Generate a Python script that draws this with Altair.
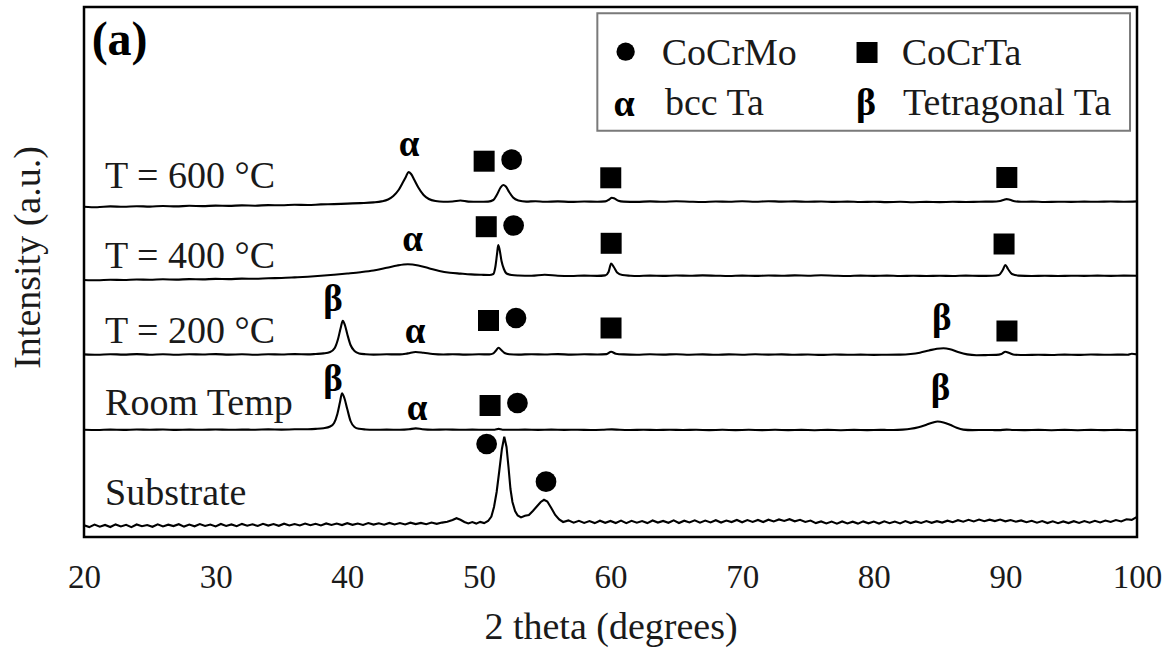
import altair as alt
import pandas as pd

# ---------------- data ----------------
# XRD traces: (2theta, intensity in plot units)
T600 = [(20,330.3),(21,329.8),(22,330.6),(23,330.2),(24,330.8),(25,330.4),(26,331.0),(27,330.6),(28,331.2),(29,330.9),
        (30,331.4),(31,331.1),(32,331.6),(33,331.3),(34,331.9),(35,331.7),(36,332.2),(37,332.0),(38,332.6),(39,332.9),
        (40,333.4),(41,333.9),(42,334.6),(42.6,335.6),(43.1,337.5),(43.5,341),(43.9,347),(44.2,354),(44.45,360),(44.65,365),
        (44.85,363),(45.1,357),(45.4,349.5),(45.8,342),(46.2,338),(46.7,336),(47.3,335.3),(48,335.5),(48.6,336.5),(49.2,335.4),
        (50,335.2),(50.7,335.4),(51.1,337),(51.4,343),(51.65,349.5),(51.85,352),(52.05,350.5),(52.3,345),(52.6,339.5),(53,336.5),
        (53.6,335.4),(54.3,335.8),(55,335.2),(56,335.6),(57,335.1),(58,335.5),(59,335.2),(59.6,335.6),(59.9,337.5),(60.1,339.3),
        (60.3,338.5),(60.6,336.3),(61,335.4),(62,335.1),(63,335.6),(64,335.2),(65,335.7),(66,335.3),(67,335.0),(68,335.5),
        (69,335.2),(70,335.7),(71,335.3),(72,335.8),(73,335.4),(74,335.6),(75,335.2),(76,335.5),(77,335.1),(78,335.4),
        (79,335.0),(80,335.3),(81,334.9),(82,335.2),(83,334.8),(84,335.1),(85,334.9),(86,335.2),(87,335.0),(88,335.3),
        (89,335.4),(89.6,336.0),(89.9,337.3),(90.1,337.9),(90.35,337.2),(90.7,335.8),(91.2,335.2),(92,335.4),(93,335.0),(94,335.3),
        (95,335.1),(96,335.4),(97,335.2),(98,335.5),(99,335.3),(100,335.6)]

T400 = [(20,257.0),(21,256.7),(22,257.3),(23,257.0),(24,257.5),(25,257.2),(26,257.7),(27,257.4),(28,257.9),(29,257.6),
        (30,258.1),(31,257.9),(32,258.4),(33,258.2),(34,258.8),(35,259.0),(36,259.6),(37,260.3),(38,261.2),(39,262.3),
        (40,263.5),(41,264.8),(42,266.5),(43,269.2),(43.8,271.5),(44.6,272.7),(45.4,271.5),(46.2,268.8),(47,266.0),(47.8,264.3),
        (48.6,263.4),(49.4,262.6),(50.2,262.2),(50.8,262.0),(51.1,263.0),(51.25,270),(51.38,283),(51.47,292),(51.58,287),(51.72,276),
        (51.9,268),(52.1,263.5),(52.5,262.0),(53,261.5),(54,261.2),(55,262.2),(56,261.3),(57,261.0),(58,261.4),(59,261.1),
        (59.6,261.6),(59.85,265),(60.05,273.5),(60.25,270),(60.5,264.5),(60.9,262.0),(61.5,261.3),(62,261.0),(63,261.4),(64,261.1),
        (65,261.5),(66,261.2),(67,261.6),(68,261.3),(69,261.0),(70,261.4),(71,261.1),(72,261.5),(73,261.2),(74,261.6),
        (75,261.3),(76,261.7),(77,261.3),(78,261.0),(79,261.4),(80,261.1),(81,261.4),(82,261.0),(83,261.3),(84,261.0),
        (85,261.3),(86,261.0),(87,261.4),(88,261.1),(89,261.3),(89.5,262.0),(89.8,267),(90.0,272),(90.2,268),(90.5,263),
        (91,261.4),(92,261.0),(93,261.3),(94,261.0),(95,261.3),(96,261.1),(97,261.4),(98,261.1),(99,261.4),(100,261.2)]

T200 = [(20,182.6),(21,182.2),(22,182.8),(23,182.4),(24,182.9),(25,182.3),(26,182.7),(27,182.2),(28,182.8),(29,182.5),
        (30,182.9),(31,182.4),(32,182.7),(33,182.3),(34,182.8),(35,182.5),(36,182.9),(37,182.6),(37.6,183.0),(38.2,183.6),
        (38.7,185.0),(39.05,189),(39.3,198),(39.5,209),(39.66,216.3),(39.82,212),(40.0,203),(40.25,192),(40.55,186),(40.9,183.6),
        (41.4,182.8),(42,182.4),(43,182.7),(44,182.6),(44.6,183.6),(45.2,185.0),(45.8,184.2),(46.5,183.0),(47.3,182.5),(48,182.8),
        (49,182.4),(50,182.7),(50.8,182.6),(51.1,183.6),(51.3,186.5),(51.5,189.3),(51.7,187.0),(51.95,184.0),(52.3,182.8),(53,182.4),
        (54,182.8),(55,182.5),(56,182.9),(57,182.4),(58,182.7),(59,182.5),(59.7,182.9),(60.05,185.2),(60.4,183.3),(61,182.6),
        (62,182.3),(63,182.7),(64,182.4),(65,182.8),(66,182.3),(67,182.6),(68,182.2),(69,182.6),(70,182.3),(71,182.7),
        (72,182.4),(73,182.6),(74,182.2),(75,182.5),(76,182.1),(77,182.5),(78,182.2),(79,182.4),(80,182.1),(81,182.3),
        (82,182.4),(82.8,183.0),(83.5,184.3),(84.2,186.5),(84.8,188.3),(85.3,188.8),(85.8,187.8),(86.4,185.0),(87.1,182.6),(87.8,181.8),
        (88.5,181.9),(89.3,182.1),(89.7,183.0),(90.0,185.3),(90.3,184.0),(90.7,182.3),(91.5,182.0),(92.5,182.3),(93.5,182.0),(94.5,182.4),
        (95.5,182.1),(96.5,182.5),(97.5,182.2),(98.5,182.4),(99.3,182.3),(99.6,183.2),(100,182.6)]

TRT = [(20,107.2),(21,107.0),(22,107.4),(23,107.1),(24,107.5),(25,107.2),(26,107.5),(27,107.1),(28,107.4),(29,107.2),
       (30,107.5),(31,107.2),(32,107.4),(33,107.3),(34,107.6),(35,107.4),(36,107.7),(37,107.8),(37.6,108.1),(38.2,108.8),
       (38.7,110.5),(39.0,114),(39.25,123),(39.45,135),(39.6,143.7),(39.78,139),(40.0,128),(40.25,116),(40.55,110),(40.9,108.2),
       (41.4,107.5),(42,107.2),(43,107.4),(44,107.2),(44.7,107.7),(45.2,108.6),(45.7,107.8),(46.5,107.3),(47.5,107.5),(48.5,107.2),
       (49.5,107.4),(50.5,107.2),(51.2,107.3),(51.5,108.1),(51.8,107.3),(52.5,107.2),(53.5,107.4),(54.5,107.1),(55.5,107.4),(56.5,107.1),
       (57.5,107.3),(58.5,107.0),(59.5,107.3),(60.1,107.6),(60.7,107.2),(61.5,107.0),(62.5,107.3),(63.5,107.0),(64.5,107.3),(65.5,107.0),
       (66.5,107.2),(67.5,106.9),(68.5,107.2),(69.5,106.9),(70.5,107.2),(71.5,106.9),(72.5,107.2),(73.5,106.9),(74.5,107.1),(75.5,106.8),
       (76.5,107.1),(77.5,106.8),(78.5,107.1),(79.5,106.9),(80.5,107.1),(81.5,107.0),(82.2,107.4),(82.8,108.2),(83.4,109.8),(84.0,112.3),
       (84.5,114.6),(84.85,115.5),(85.3,114.6),(85.8,112.2),(86.3,109.2),(86.8,107.4),(87.5,106.9),(88.5,107.0),(89.5,106.9),(90.1,107.4),
       (90.6,107.0),(91.5,106.9),(92.5,107.1),(93.5,106.8),(94.5,107.1),(95.5,106.8),(96.5,107.1),(97.5,106.9),(98.5,107.1),(99.5,106.9),
       (100,107.0)]

SUB = [(20,11.8),(20.4,9.9),(20.8,12.4),(21.2,10.3),(21.6,12.1),(22,10.0),(22.4,12.6),(22.8,10.6),(23.2,12.2),(23.6,9.9),
       (24,12.5),(24.4,10.8),(24.8,12.0),(25.2,10.2),(25.6,12.7),(26,10.5),(26.4,12.3),(26.8,10.9),(27.2,12.8),(27.6,10.4),
       (28,12.4),(28.4,10.7),(28.8,12.9),(29.2,11.0),(29.6,12.5),(30,10.6),(30.4,13.0),(30.8,11.1),(31.2,12.6),(31.6,10.8),
       (32,13.1),(32.4,11.3),(32.8,12.7),(33.2,11.0),(33.6,13.2),(34,11.4),(34.4,12.9),(34.8,11.2),(35.2,13.3),(35.6,11.6),
       (36,13.0),(36.4,11.5),(36.8,13.5),(37.2,11.8),(37.6,13.2),(38,11.6),(38.4,13.6),(38.8,12.0),(39.2,13.4),(39.6,11.9),
       (40,13.8),(40.4,12.2),(40.8,13.5),(41.2,12.0),(41.6,14.0),(42,12.4),(42.4,13.7),(42.8,12.3),(43.2,14.1),(43.6,12.6),
       (44,13.9),(44.4,12.5),(44.8,14.3),(45.2,12.9),(45.6,14.1),(46,12.8),(46.4,14.5),(46.8,13.2),(47.2,14.4),(47.6,15.2),
       (48,17.0),(48.3,18.8),(48.6,17.2),(48.9,15.0),(49.2,13.6),(49.5,14.9),(49.8,13.4),(50.1,15.1),(50.4,13.9),(50.7,16.0),
       (50.95,20.5),(51.15,30),(51.35,45),(51.55,66),(51.75,88),(51.93,100.3),(52.1,90),(52.25,70),(52.4,48),(52.55,35),
       (52.75,26),(52.95,21.5),(53.2,19.6),(53.5,21.2),(53.8,22.0),(54.1,26),(54.4,30.5),(54.7,35),(54.95,37.2),(55.2,35.5),
       (55.5,29),(55.8,22),(56.1,17.5),(56.4,15.0),(56.8,16.6),(57.2,14.3),(57.6,16.2),(58,14.1),(58.4,16.0),(58.8,13.9),
       (59.2,16.3),(59.6,14.2),(60,16.1),(60.4,14.0),(60.8,16.4),(61.2,13.8),(61.6,16.2),(62,14.3),(62.4,16.0),(62.8,13.9),
       (63.2,16.5),(63.6,14.4),(64,16.1),(64.4,14.2),(64.8,16.6),(65.2,14.0),(65.6,16.3),(66,14.5),(66.4,16.7),(66.8,14.3),
       (67.2,16.4),(67.6,14.6),(68,16.8),(68.4,14.5),(68.8,16.5),(69.2,14.9),(69.6,17.0),(70,14.7),(70.4,16.9),(70.8,15.1),
       (71.2,17.1),(71.6,15.0),(72,17.3),(72.4,15.6),(72.8,17.6),(73.2,16.0),(73.6,17.8),(74,15.7),(74.4,17.2),(74.8,15.0),
       (75.2,16.4),(75.6,13.9),(76,15.6),(76.4,13.5),(76.8,15.4),(77.2,13.3),(77.6,15.5),(78,13.6),(78.4,15.3),(78.8,13.4),
       (79.2,15.6),(79.6,13.7),(80,15.4),(80.4,13.5),(80.8,15.7),(81.2,13.8),(81.6,15.5),(82,13.6),(82.4,15.9),(82.8,13.9),
       (83.2,15.6),(83.6,14.0),(84,16.0),(84.4,14.2),(84.8,15.8),(85.2,14.4),(85.6,16.3),(86,14.8),(86.4,16.8),(86.8,15.3),
       (87.2,17.2),(87.6,15.6),(88,17.4),(88.4,15.8),(88.8,17.3),(89.2,15.9),(89.6,17.5),(90,15.7),(90.4,17.0),(90.8,15.3),
       (91.2,16.6),(91.6,14.8),(92,16.2),(92.4,14.3),(92.8,15.9),(93.2,13.9),(93.6,15.7),(94,13.8),(94.4,15.6),(94.8,13.9),
       (95.2,15.8),(95.6,14.1),(96,16.0),(96.4,14.3),(96.8,16.2),(97.2,14.6),(97.6,16.5),(98,15.0),(98.4,16.9),(98.8,15.6),
       (99.2,17.8),(99.6,17.2),(100,20.2)]

SMOOTH_TRACES = {"T = 600 °C": T600, "T = 400 °C": T400, "T = 200 °C": T200, "Room Temp": TRT}

# trace labels: (text, x, y-baseline)
TRACE_LABELS = [("T = 600 °C", 21.6, 349), ("T = 400 °C", 21.6, 269), ("T = 200 °C", 21.6, 194),
                ("Room Temp", 21.6, 122), ("Substrate", 21.6, 32)]

# phase letters above peaks: (letter, x, y-baseline)
GREEK = [("α", 44.69, 381), ("α", 44.96, 286), ("β", 38.92, 226.5), ("α", 45.15, 194), ("β", 85.16, 207),
         ("β", 38.92, 146), ("α", 45.30, 117), ("β", 85.08, 137)]

# CoCrTa peak markers (squares) and CoCrMo peak markers (circles): (x, y-center)
SQUARES = [(50.40, 375.8), (60.02, 359.2), (90.11, 359.5),
           (50.56, 310.3), (60.05, 293.7), (89.90, 293.0),
           (50.73, 216.5), (60.04, 209.0), (90.12, 206.0),
           (50.85, 131.5)]
CIRCLES = [(52.49, 377.3), (52.64, 311.5), (52.82, 219.0), (52.93, 134.0), (50.59, 93.0), (55.10, 55.3)]

# legend box contents
LEGEND_BOX = [(59.0, 99.47, 406.3, 523.7)]
LEGEND_TEXT = [("CoCrMo", 63.89, 472), ("CoCrTa", 82.12, 472), ("bcc Ta", 64.14, 422), ("Tetragonal Ta", 82.22, 422)]
LEGEND_GREEK = [("α", 61.03, 421), ("β", 79.41, 422)]
LEGEND_CIRCLE = [(61.15, 485.3)]
LEGEND_SQUARE = [(79.49, 484.5)]
PANEL_LABEL = [("(a)", 20.58, 482)]

X_TICKS = [20, 30, 40, 50, 60, 70, 80, 90, 100]

# ---------------- chart ----------------
FONT = "Liberation Serif"

xs = alt.X("x:Q", scale=alt.Scale(domain=[20, 100], nice=False, zero=False),
           axis=alt.Axis(values=X_TICKS, title="2 theta (degrees)", grid=False, ticks=False, domain=False,
                         labelFont=FONT, labelFontSize=33, labelColor="#1a1a1a", labelPadding=24,
                         titleFont=FONT, titleFontSize=38, titleFontWeight="normal", titleColor="#1a1a1a",
                         titlePadding=14, labelFlush=False))
ys = alt.Y("y:Q", scale=alt.Scale(domain=[0, 530], nice=False, zero=False),
           axis=alt.Axis(title="Intensity (a.u.)", labels=False, ticks=False, domain=False, grid=False,
                         titleFont=FONT, titleFontSize=38, titleFontWeight="normal", titleColor="#1a1a1a",
                         titleAngle=270, titleX=-56, titleY=250, titleAlign="center", titleBaseline="middle"))

rows = []
for name, pts in SMOOTH_TRACES.items():
    for i, (x, y) in enumerate(pts):
        rows.append({"trace": name, "x": x, "y": y, "order": i})
df_tr = pd.DataFrame(rows)
df_sub = pd.DataFrame([{"x": x, "y": y, "order": i} for i, (x, y) in enumerate(SUB)])

lines = alt.Chart(df_tr).mark_line(color="black", strokeWidth=2.1, interpolate="monotone").encode(
    x=xs, y=ys, detail="trace:N", order="order:Q")
sub_line = alt.Chart(df_sub).mark_line(color="black", strokeWidth=2.1, interpolate="linear").encode(
    x=xs, y=ys, order="order:Q")

def tdf(items):
    return pd.DataFrame([{"label": t, "x": x, "y": y} for t, x, y in items])

def pdf(items):
    return pd.DataFrame([{"x": x, "y": y} for x, y in items])

labels = alt.Chart(tdf(TRACE_LABELS)).mark_text(font=FONT, fontSize=38, align="left", baseline="alphabetic",
                                                 color="#1a1a1a").encode(x=xs, y=ys, text="label:N")
greek = alt.Chart(tdf(GREEK)).mark_text(font=FONT, fontSize=37, fontWeight="bold", align="center",
                                        baseline="alphabetic", color="black").encode(x=xs, y=ys, text="label:N")
squares = alt.Chart(pdf(SQUARES)).mark_point(shape="square", filled=True, size=441, color="black", opacity=1).encode(x=xs, y=ys)
circles = alt.Chart(pdf(CIRCLES)).mark_point(shape="circle", filled=True, size=430, color="black", opacity=1).encode(x=xs, y=ys)

box = alt.Chart(pd.DataFrame([{"x": a, "x2": b, "y": c, "y2": d} for a, b, c, d in LEGEND_BOX])).mark_rect(
    fill="white", stroke="#7a7a7a", strokeWidth=2).encode(x=xs, x2="x2:Q", y=ys, y2="y2:Q")
leg_text = alt.Chart(tdf(LEGEND_TEXT)).mark_text(font=FONT, fontSize=38, align="left", baseline="alphabetic",
                                                  color="#1a1a1a").encode(x=xs, y=ys, text="label:N")
leg_greek = alt.Chart(tdf(LEGEND_GREEK)).mark_text(font=FONT, fontSize=38, fontWeight="bold", align="center",
                                                    baseline="alphabetic", color="black").encode(x=xs, y=ys, text="label:N")
leg_circle = alt.Chart(pdf(LEGEND_CIRCLE)).mark_point(shape="circle", filled=True, size=335, color="black", opacity=1).encode(x=xs, y=ys)
leg_square = alt.Chart(pdf(LEGEND_SQUARE)).mark_point(shape="square", filled=True, size=441, color="black", opacity=1).encode(x=xs, y=ys)
panel = alt.Chart(tdf(PANEL_LABEL)).mark_text(font=FONT, fontSize=48, fontWeight="bold", align="left",
                                               baseline="alphabetic", color="black").encode(x=xs, y=ys, text="label:N")

chart = alt.layer(lines, sub_line, labels, greek, squares, circles, box, leg_text, leg_greek, leg_circle,
                  leg_square, panel).properties(
    width=1053, height=530,
    padding={"left": 84, "top": 7, "right": 33, "bottom": 112},
    autosize=alt.AutoSizeParams(type="none"),
    background="white",
).configure_view(stroke="black", strokeWidth=2.5)

chart.save("out.html", embed_options={"renderer": "svg", "actions": False})
